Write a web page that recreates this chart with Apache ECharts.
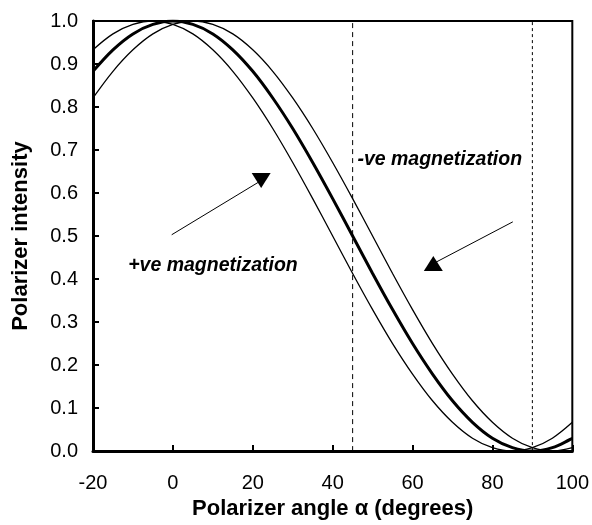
<!DOCTYPE html>
<html>
<head>
<meta charset="utf-8">
<script src="https://cdn.jsdelivr.net/npm/echarts@6/dist/echarts.min.js"></script>
<style>
  html, body { margin: 0; padding: 0; background: #fff; }
  #chart { width: 592px; height: 525px; }
</style>
</head>
<body>
<div id="chart"></div>
<script>
// Polarizer angle samples (degrees)
const angles = [-20, -15, -10, -5, 0, 5, 10, 15, 20, 25, 30, 35, 40, 45, 50, 55, 60, 65, 70, 75, 80, 85, 90, 95, 100];

// Transmitted intensity, no magnetization (thick curve)
const intensityZero = [0.883, 0.933, 0.970, 0.992, 1.000, 0.992, 0.970, 0.933, 0.883, 0.821, 0.750, 0.671, 0.587, 0.500, 0.413, 0.329, 0.250, 0.179, 0.117, 0.067, 0.030, 0.008, 0.000, 0.008, 0.030];

// Curve shifted towards negative angles
const intensityNeg = [0.933, 0.970, 0.992, 1.000, 0.992, 0.970, 0.933, 0.883, 0.821, 0.750, 0.671, 0.587, 0.500, 0.413, 0.329, 0.250, 0.179, 0.117, 0.067, 0.030, 0.008, 0.000, 0.008, 0.030, 0.067];

// Curve shifted towards positive angles
const intensityPos = [0.821, 0.883, 0.933, 0.970, 0.992, 1.000, 0.992, 0.970, 0.933, 0.883, 0.821, 0.750, 0.671, 0.587, 0.500, 0.413, 0.329, 0.250, 0.179, 0.117, 0.067, 0.030, 0.008, 0.000, 0.008];

// Vertical reference angles
const refAngles = [45, 90];

// Axis ticks
const xTicks = [-20, 0, 20, 40, 60, 80, 100];
const yTicks = [0.0, 0.1, 0.2, 0.3, 0.4, 0.5, 0.6, 0.7, 0.8, 0.9, 1.0];

// Annotations in data coordinates
const annoLabels = [
  { text: '-ve magnetization', x: 46.2, y: 0.677 },
  { text: '+ve magnetization', x: -11.2, y: 0.432 }
];
const annoArrows = [
  { from: [-0.3, 0.503], to: [22.1, 0.629], dir: 'down' },
  { from: [85.1, 0.533], to: [65.2, 0.436], dir: 'up' }
];

const pairs = (xs, ys) => xs.map((x, i) => [x, ys[i]]);

const chart = echarts.init(document.getElementById('chart'), null, { renderer: 'canvas' });

const font = 'Liberation Sans, Arial, Helvetica, sans-serif';

const curve = (name, ys, width) => ({
  name, type: 'line', data: pairs(angles, ys), smooth: 0.35,
  showSymbol: false, symbol: 'none', silent: true,
  lineStyle: { color: '#000', width }, z: 3
});

const refLine = (x, dash) => ({
  type: 'line', data: [[x, 0], [x, 1]], showSymbol: false, symbol: 'none', silent: true,
  lineStyle: { color: '#000', width: 1, type: dash }, z: 2
});

chart.setOption({
  animation: false,
  backgroundColor: '#fff',
  grid: { left: 93, right: 19, top: 21, bottom: 71, show: true, borderColor: '#000', borderWidth: 2 },
  xAxis: {
    type: 'value', min: xTicks[0], max: xTicks[xTicks.length - 1], interval: 20,
    name: 'Polarizer angle \u03b1 (degrees)', nameLocation: 'middle', nameGap: 45,
    nameTextStyle: { fontFamily: font, fontWeight: 'bold', fontSize: 22, color: '#000' },
    axisLine: { show: true, onZero: false, lineStyle: { color: '#000', width: 3 } },
    axisTick: { show: true, inside: true, length: 6, lineStyle: { color: '#000', width: 2 } },
    axisLabel: { margin: 22, fontFamily: font, fontSize: 20, color: '#000' },
    splitLine: { show: false }
  },
  yAxis: {
    type: 'value', min: yTicks[0], max: yTicks[yTicks.length - 1], interval: 0.1,
    name: 'Polarizer intensity', nameLocation: 'middle', nameGap: 61,
    nameTextStyle: { fontFamily: font, fontWeight: 'bold', fontSize: 22, color: '#000' },
    axisLine: { show: true, onZero: false, lineStyle: { color: '#000', width: 3 } },
    axisTick: { show: true, inside: true, length: 6, lineStyle: { color: '#000', width: 2 } },
    axisLabel: { margin: 15, fontFamily: font, fontSize: 20, color: '#000', formatter: v => v.toFixed(1) },
    splitLine: { show: false }
  },
  series: [
    refLine(refAngles[0], [5, 4]),
    refLine(refAngles[1], [3, 3]),
    curve('negative', intensityNeg, 1.3),
    curve('positive', intensityPos, 1.3),
    curve('zero', intensityZero, 3)
  ]
});

// Text labels and arrows placed through the axis scales
function drawAnnotations() {
  const els = [];
  annoLabels.forEach(a => {
    const p = chart.convertToPixel({ gridIndex: 0 }, [a.x, a.y]);
    els.push({
      type: 'text', x: p[0], y: p[1], z: 10,
      style: { text: a.text, fill: '#000', font: 'italic bold 19.5px ' + font, verticalAlign: 'middle' }
    });
  });
  annoArrows.forEach(a => {
    const p0 = chart.convertToPixel({ gridIndex: 0 }, a.from);
    const p1 = chart.convertToPixel({ gridIndex: 0 }, a.to);
    els.push({
      type: 'line', z: 10,
      shape: { x1: p0[0], y1: p0[1], x2: p1[0], y2: p1[1] },
      style: { stroke: '#000', lineWidth: 1 }
    });
    const w = 19, h = 15;
    const pts = a.dir === 'down'
      ? [[p1[0] - w / 2, p1[1] - h / 2], [p1[0] + w / 2, p1[1] - h / 2], [p1[0], p1[1] + h / 2]]
      : [[p1[0] - w / 2, p1[1] + h / 2], [p1[0] + w / 2, p1[1] + h / 2], [p1[0], p1[1] - h / 2]];
    els.push({ type: 'polygon', z: 11, shape: { points: pts }, style: { fill: '#000' } });
  });
  chart.setOption({ graphic: { elements: els } });
}
drawAnnotations();
</script>
</body>
</html>
